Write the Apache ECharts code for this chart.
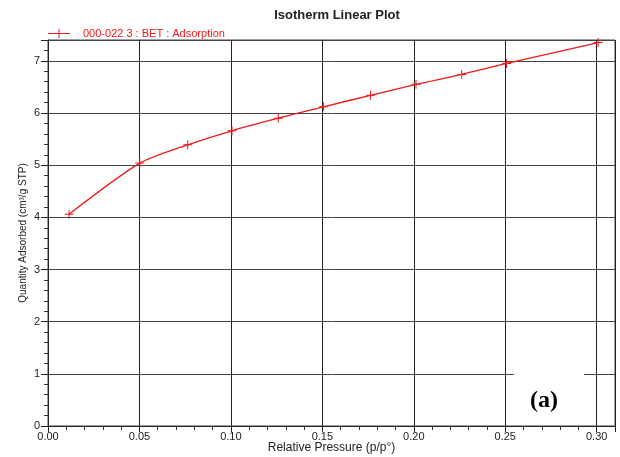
<!DOCTYPE html>
<html><head><meta charset="utf-8">
<script src="https://cdn.jsdelivr.net/npm/echarts@6/dist/echarts.min.js"></script>
<style>html,body{margin:0;padding:0;background:#fff}#c{width:620px;height:457px}</style>
</head><body><div id="c"></div>
<script>
const pressure = [0.0115, 0.0502, 0.0764, 0.1006, 0.1259, 0.1507, 0.1763, 0.2012, 0.2262, 0.2507, 0.3008];
const quantity = [4.06, 5.04, 5.39, 5.66, 5.90, 6.12, 6.34, 6.55, 6.74, 6.95, 7.35];
const seriesName = '000-022 3 : BET : Adsorption';
const titleText = 'Isotherm Linear Plot';
const xName = 'Relative Pressure (p/p°)';
const yName = 'Quantity Adsorbed (cm³/g STP)';
const panelLabel = '(a)';

const red = '#f01818';
const plus = 'path://M0,4L9,4L9,5L0,5Z M4,0L5,0L5,9L4,9Z';
const chart = echarts.init(document.getElementById('c'));
chart.setOption({
  animation: false,
  textStyle: {fontFamily: 'Liberation Sans, Arial, sans-serif'},
  title: {text: titleText, left: 332, textAlign: 'center', top: 4,
    textStyle: {fontSize: 13, fontWeight: 'bold', color: '#222'}},
  legend: {left: 43, top: 23, itemWidth: 22, itemHeight: 9, itemGap: 5,
    icon: 'path://M0,4L22,4L22,5L0,5Z M10.5,0L11.5,0L11.5,9L10.5,9Z',
    textStyle: {color: red, fontSize: 11, padding: [0,0,0,8]},
    data: [seriesName]},
  grid: {left: 48, right: 5, top: 40, bottom: 31, containLabel: false, outerBoundsMode: 'none',
    show: true, borderColor: '#444', borderWidth: 1},
  xAxis: {type: 'value', min: 0, max: 0.31, interval: 0.05,
    name: xName, nameLocation: 'middle', nameGap: 16, nameMoveOverlap: false,
    nameTextStyle: {fontSize: 12, color: '#222'},
    axisLine: {lineStyle: {color: '#222'}},
    axisTick: {show: true, length: 6, lineStyle: {color: '#222'}},
    minorTick: {show: true, splitNumber: 5, length: 4, lineStyle: {color: '#333'}},
    splitLine: {show: true, lineStyle: {color: '#222', width: 1}},
    axisLabel: {fontSize: 11, color: '#222', margin: 5,
      formatter: v => Math.abs(v / 0.05 - Math.round(v / 0.05)) < 1e-6 ? v.toFixed(2) : ''}},
  yAxis: {type: 'value', min: 0, max: 7.4, interval: 1,
    name: yName, nameLocation: 'middle', nameGap: 20, nameMoveOverlap: false,
    nameTextStyle: {fontSize: 10, color: '#222'},
    axisLine: {show: true, lineStyle: {color: '#222'}},
    axisTick: {show: true, length: 7, lineStyle: {color: '#222'}},
    minorTick: {show: true, splitNumber: 5, length: 4, lineStyle: {color: '#333'}},
    splitLine: {show: true, lineStyle: {color: '#444', width: 1}},
    axisLabel: {fontSize: 11, color: '#222', margin: 8,
      formatter: v => Math.abs(v - Math.round(v)) < 1e-6 ? String(v) : ''}},
  series: [{
    name: seriesName, type: 'line', smooth: 0.25,
    data: pressure.map((p, i) => [p, quantity[i]]),
    symbol: plus, symbolSize: 9, showSymbol: true,
    lineStyle: {color: red, width: 1.3}, itemStyle: {color: red}
  }],
  graphic: [
    {type: 'rect', left: 514, top: 366, shape: {width: 70, height: 50}, style: {fill: '#fff'}, z: 100},
    {type: 'text', left: 530, top: 389, z: 101,
      style: {text: panelLabel, fill: '#000', font: 'bold 24px "Liberation Serif", "Times New Roman", serif'}}
  ]
});
</script></body></html>
